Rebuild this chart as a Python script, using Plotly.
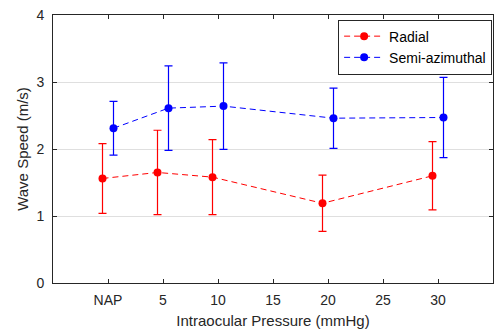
import plotly.graph_objects as go

categories = ["NAP", "5", "10", "15", "20", "25", "30"]
cat_pos = [0, 5, 10, 15, 20, 25, 30]

pressure = [0, 5, 10, 20, 30]
radial_speed = [1.56, 1.65, 1.58, 1.19, 1.60]
radial_err = [0.52, 0.63, 0.56, 0.42, 0.51]
semi_speed = [2.31, 2.61, 2.64, 2.46, 2.47]
semi_err = [0.40, 0.63, 0.645, 0.45, 0.60]

offset = 0.5

fig = go.Figure()
fig.add_trace(go.Scatter(
    x=[p - offset for p in pressure], y=radial_speed, name="Radial",
    mode="lines+markers",
    line=dict(color="#FF0000", width=1, dash="6px,4px"),
    marker=dict(color="#FF0000", size=8),
    error_y=dict(type="data", array=radial_err, color="#FF0000", thickness=1.2, width=4),
))
fig.add_trace(go.Scatter(
    x=[p + offset for p in pressure], y=semi_speed, name="Semi-azimuthal",
    mode="lines+markers",
    line=dict(color="#0000FF", width=1, dash="6px,4px"),
    marker=dict(color="#0000FF", size=8),
    error_y=dict(type="data", array=semi_err, color="#0000FF", thickness=1.2, width=4),
))

axis_font = dict(family="Liberation Sans, Arial, sans-serif", size=14, color="#262626")
fig.update_layout(
    width=494, height=330,
    margin=dict(l=53, r=1, t=15, b=47),
    paper_bgcolor="white", plot_bgcolor="white",
    font=axis_font,
    showlegend=True,
    legend=dict(x=0.998, y=0.983, xanchor="right", yanchor="top",
                bordercolor="#262626", borderwidth=1, bgcolor="white",
                font=dict(family="Liberation Sans, Arial, sans-serif", size=14, color="#000000"),
                tracegroupgap=0, itemwidth=40),
)
fig.update_xaxes(
    range=[-5, 35], tickvals=cat_pos, ticktext=categories,
    showgrid=False, zeroline=False, automargin=False,
    showline=True, linecolor="#262626", linewidth=1, mirror="allticks",
    ticks="inside", ticklen=4, tickcolor="#262626", ticklabelstandoff=4,
    title=dict(text="Intraocular Pressure (mmHg)", font=dict(size=15), standoff=8),
)
fig.update_yaxes(
    range=[0, 4], tickvals=[0, 1, 2, 3, 4],
    showgrid=True, gridcolor="#DFDFDF", gridwidth=1, zeroline=False, automargin=False,
    showline=True, linecolor="#262626", linewidth=1, mirror="allticks",
    ticks="inside", ticklen=4, tickcolor="#262626", ticklabelstandoff=5,
    title=dict(text="Wave Speed (m/s)", font=dict(size=15), standoff=4),
)

fig.write_html("out.html", config={"displayModeBar": False},
               post_script="document.body.style.margin='0';document.body.style.overflow='hidden';")
